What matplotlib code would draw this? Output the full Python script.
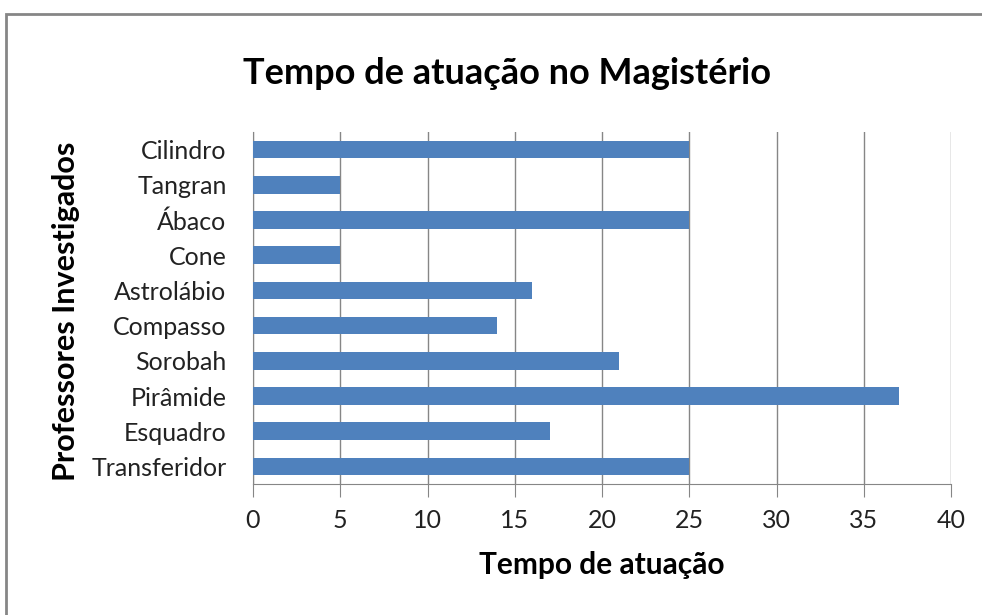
import matplotlib.pyplot as plt
from matplotlib.patches import Rectangle

# data (top to bottom)
categorias = ["Cilindro", "Tangran", "Ábaco", "Cone", "Astrolábio",
              "Compasso", "Sorobah", "Pirâmide", "Esquadro", "Transferidor"]
tempo = [25, 5, 25, 5, 16, 14, 21, 37, 17, 25]
xticks = [0, 5, 10, 15, 20, 25, 30, 35, 40]

plt.rcParams['font.family'] = ['Lato', 'DejaVu Sans']

fig = plt.figure(figsize=(9.82, 6.15), dpi=100)
ax = fig.add_axes([253/982, 1 - 484/615, (951-253)/982, (484-132)/615])

# outer chart border (runs off the right and bottom edges)
fig.patches.append(Rectangle((6/982, -0.1), 1.2, 1 - 14/615 + 0.1,
                             transform=fig.transFigure, fill=False,
                             edgecolor='#868686', linewidth=2))

y = list(range(len(categorias)))[::-1]
ax.barh(y, tempo, height=0.5, color='#4F81BD', zorder=3)

ax.set_xlim(0, 40)
ax.set_ylim(-0.5, len(categorias) - 0.5)
ax.set_xticks(xticks)
ax.set_yticks(y)
ax.set_yticklabels(categorias)
ax.grid(axis='x', color='#868686', linewidth=1, zorder=0)

for s in ['top', 'right']:
    ax.spines[s].set_visible(False)
ax.spines['left'].set_color('#868686')
ax.spines['bottom'].set_color('#868686')
ax.tick_params(axis='y', length=0, labelsize=18, pad=19, labelcolor='#222222')
ax.tick_params(axis='x', length=9, color='#868686', labelsize=18, pad=9,
               labelcolor='#222222')

ax.set_xlabel("Tempo de atuação", fontsize=21.5, fontweight='bold')
ax.set_ylabel("Professores Investigados", fontsize=22, fontweight='bold')
ax.xaxis.set_label_coords(0.5, (484 - 551) / 352)
ax.yaxis.set_label_coords((80 - 253) / 698, (484 - 311) / 352)
fig.text(507/982, 1 - 73/615, "Tempo de atuação no Magistério",
         fontsize=26, fontweight='bold', ha='center', va='center')

fig.savefig("out.png", dpi=100)
